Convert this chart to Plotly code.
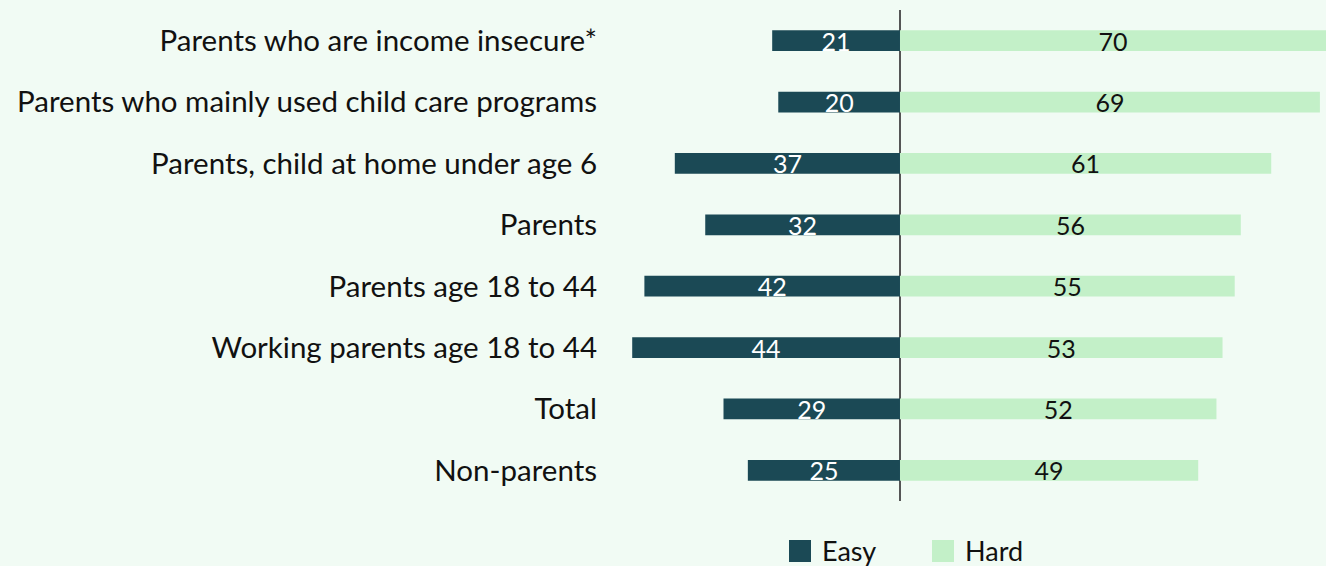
import plotly.graph_objects as go

# Survey groups, listed top to bottom
groups = [
    "Parents who are income insecure*",
    "Parents who mainly used child care programs",
    "Parents, child at home under age 6",
    "Parents",
    "Parents age 18 to 44",
    "Working parents age 18 to 44",
    "Total",
    "Non-parents",
]
easy = [21, 20, 37, 32, 42, 44, 29, 25]
hard = [70, 69, 61, 56, 55, 53, 52, 49]

BG = "#f1fbf4"
EASY_COLOR = "#1b4955"
HARD_COLOR = "#c3f0c8"
FONT = "Lato"

fig = go.Figure()

# "Easy" bars extend to the left of zero
fig.add_trace(go.Bar(
    y=groups, x=[-v for v in easy], orientation="h",
    name="Easy", marker=dict(color=EASY_COLOR, line=dict(width=0)),
    text=[str(v) for v in easy], textposition="inside", textangle=0,
    insidetextanchor="middle", constraintext="none",
    textfont=dict(color="white", size=25, family=FONT),
    width=0.34, showlegend=False, hoverinfo="skip",
))

# "Hard" bars extend to the right of zero
fig.add_trace(go.Bar(
    y=groups, x=hard, orientation="h",
    name="Hard", marker=dict(color=HARD_COLOR, line=dict(width=0)),
    text=[str(v) for v in hard], textposition="inside", textangle=0,
    insidetextanchor="middle", constraintext="none",
    textfont=dict(color="#111111", size=25, family=FONT),
    width=0.34, showlegend=False, hoverinfo="skip",
))

# Plot-area geometry in pixels (used to place the legend)
W, H = 1326, 566
ML, MR, MT, MB = 610, 0, 10, 65
PW, PH = W - ML - MR, H - MT - MB


def px_x(p):
    return (p - ML) / PW


def px_y(p):
    return (H - MB - p) / PH


shapes = []
annotations = []
legend_items = [("Easy", EASY_COLOR, 789), ("Hard", HARD_COLOR, 932)]
for label, color, x0 in legend_items:
    shapes.append(dict(
        type="rect", xref="paper", yref="paper",
        x0=px_x(x0), x1=px_x(x0 + 22), y0=px_y(562), y1=px_y(540),
        fillcolor=color, line=dict(width=0),
    ))
    annotations.append(dict(
        xref="paper", yref="paper", x=px_x(x0 + 31), y=px_y(550),
        xanchor="left", yanchor="middle", text=label, showarrow=False,
        font=dict(size=27, family=FONT, color="#111111"),
    ))

fig.update_layout(
    width=W, height=H,
    margin=dict(l=ML, r=MR, t=MT, b=MB, pad=0),
    paper_bgcolor=BG, plot_bgcolor=BG,
    barmode="overlay",
    font=dict(family=FONT, size=29.5, color="#111111"),
    shapes=shapes, annotations=annotations,
    xaxis=dict(
        range=[-47.65, 70], showgrid=False, showticklabels=False,
        zeroline=True, zerolinecolor="#555555", zerolinewidth=1.5,
        fixedrange=True,
    ),
    yaxis=dict(
        categoryorder="array", categoryarray=groups, autorange="reversed",
        showgrid=False, zeroline=False, ticks="",
        ticklabelstandoff=12, tickfont=dict(size=29.5, family=FONT, color="#111111"),
        fixedrange=True,
    ),
)

fig.write_html("out.html")
